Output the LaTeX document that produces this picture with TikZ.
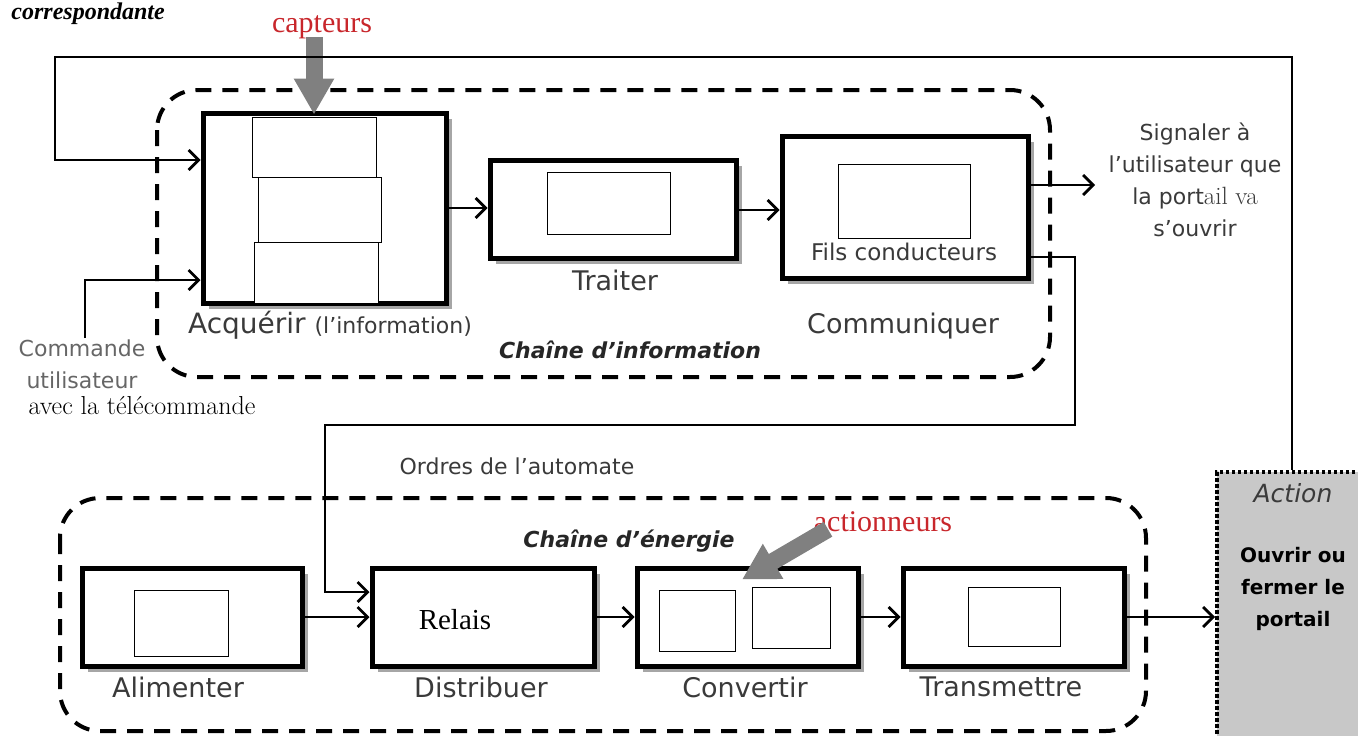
\documentclass[tikz,border=0pt]{standalone}
\usepackage{fontspec}
\usetikzlibrary{arrows.meta,shadows}
\newfontfamily\lblfont{DejaVu Sans}
\newfontfamily\serifb{Liberation Serif}
\definecolor{txtgray}{HTML}{3A3A3A}
\definecolor{capred}{HTML}{C8262B}
\definecolor{actgray}{HTML}{C8C8C8}
\definecolor{pointer}{HTML}{808080}

\begin{document}
\begin{tikzpicture}[x=1pt,y=-1pt,
  blk/.style={draw=black, line width=5pt, fill=white, inner sep=0pt,
    drop shadow={shadow xshift=6pt,shadow yshift=-6pt,fill=black!35,opacity=1}},
  slot/.style={draw=black, line width=0.8pt, fill=white, inner sep=0pt},
  chain/.style={draw=black, line width=4pt, dash pattern=on 16pt off 11pt, rounded corners=40pt},
  conn/.style={draw=black, line width=2.8pt, -{Straight Barb[length=10pt,width=20pt]}},
  pointerarrow/.style={draw=pointer, line width=17pt, -{Triangle[length=36pt,width=38pt]}},
  lbl/.style={font=\lblfont\fontsize{27}{30}\selectfont, text=txtgray, inner sep=0pt},
  note/.style={font=\lblfont\fontsize{22}{32}\selectfont, text=txtgray, inner sep=0pt, align=center},
  chaintitle/.style={font=\lblfont\bfseries\itshape\fontsize{22}{26}\selectfont, text=black!85, inner sep=0pt},
  redlbl/.style={font=\serifb\fontsize{30}{32}\selectfont, text=capred, inner sep=0pt},
]
\useasboundingbox (0,0) rectangle (1358,736);

% heading fragment
\node[font=\serifb\bfseries\itshape\fontsize{24}{26}\selectfont, anchor=east, inner sep=0pt] (head) at (165,14) {correspondante};

% dashed chain frames
\draw[chain] (157,90) rectangle (1050,377);
\draw[chain] (60,498) rectangle (1146,731);

% information chain blocks
\node[blk, minimum width=243pt, minimum height=190pt] (acq) at (324.5,208) {};
\node[slot, minimum width=124pt, minimum height=60pt] (acq1) at (314,147) {};
\node[slot, minimum width=123pt, minimum height=65pt] (acq2) at (319.5,209.5) {};
\node[slot, minimum width=124pt, minimum height=61pt] (acq3) at (316,272.5) {};

\node[blk, minimum width=246pt, minimum height=98pt] (trt) at (613,209) {};
\node[slot, minimum width=123pt, minimum height=62pt] (trt1) at (608.5,203) {};

\node[blk, minimum width=246pt, minimum height=142pt] (com) at (905,207) {};
\node[slot, minimum width=132pt, minimum height=74pt] (com1) at (904,201) {};
\node[note, font=\lblfont\fontsize{23}{30}\selectfont] (fils) at (904,252) {Fils conducteurs};

% energy chain blocks
\node[blk, minimum width=220pt, minimum height=98pt] (ali) at (192,617) {};
\node[slot, minimum width=94pt, minimum height=66pt] (ali1) at (181,623) {};

\node[blk, minimum width=222pt, minimum height=98pt] (dis) at (483,617) {};
\node[font=\serifb\fontsize{29}{30}\selectfont, inner sep=0pt] (relais) at (455,620) {Relais};

\node[blk, minimum width=221pt, minimum height=98pt] (cnv) at (747.5,617) {};
\node[slot, minimum width=76pt, minimum height=61pt] (cnv1) at (697,620.5) {};
\node[slot, minimum width=78pt, minimum height=61pt] (cnv2) at (791,617.5) {};

\node[blk, minimum width=221pt, minimum height=98pt] (trm) at (1013.5,617) {};
\node[slot, minimum width=92pt, minimum height=59pt] (trm1) at (1014,616.5) {};

% action block
\node[draw=black, fill=actgray, line width=4pt, dash pattern=on 3.5pt off 2.5pt,
      minimum width=150pt, minimum height=276pt, inner sep=0pt] (act) at (1292,610) {};
\node[font=\lblfont\itshape\fontsize{25}{28}\selectfont, text=txtgray, inner sep=0pt] (acttitle) at (1293,493) {Action};
\node[font=\lblfont\bfseries\fontsize{20}{32}\selectfont, align=center, inner sep=0pt] (acttxt) at (1293,589) {Ouvrir ou\\fermer le\\portail};

% block labels
\node[lbl] (acqlbl) at (330,325) {\fontsize{28}{30}\selectfont Acquérir {\fontsize{22}{26}\selectfont(l’information)}};
\node[lbl] (trtlbl) at (615,280) {Traiter};
\node[lbl] (comlbl) at (903,326) {Communiquer};
\node[chaintitle] (infotitle) at (630,350) {Chaîne d’information};
\node[lbl] (alilbl) at (178,687) {Alimenter};
\node[lbl] (dislbl) at (481,687) {Distribuer};
\node[lbl] (cnvlbl) at (745,687) {Convertir};
\node[lbl] (trmlbl) at (1001,687) {Transmettre};
\node[chaintitle] (enertitle) at (629,541) {Chaîne d’énergie};

% side texts
\node[note] (sig) at (1195,180) {Signaler à\\l’utilisateur que\\la port{\rmfamily\fontsize{25}{32}\selectfont ail va}\\s’ouvrir};
\node[note, align=center, text=black!60] (cmdtxt) at (82,364) {Commande\\utilisateur};
\node[font=\rmfamily\fontsize{26}{28}\selectfont, inner sep=0pt] (avec) at (142,406) {avec la télécommande};
\node[note] (ordres) at (517,466) {Ordres de l’automate};

% sensors and actuators
\node[redlbl] (capt) at (322,27) {capteurs};
\node[redlbl] (actn) at (883,522) {actionneurs};
\draw[pointerarrow] ([xshift=-8pt,yshift=2pt]capt.south) -- ([xshift=-10.5pt,yshift=-4pt]acq.north);
\draw[pointerarrow] ([xshift=-55pt,yshift=3pt]actn.south) -- ([xshift=-5.5pt,yshift=-14pt]cnv.north);

% connectors
\coordinate (loopTL) at (55,57);
\coordinate (cmdStart) at (85,338);
\coordinate (sigEnd) at (1095,185);
\coordinate (ordA) at (1075,425);
\coordinate (ordB) at (325,425);

\draw[conn] (act.north) |- (loopTL) |- ([yshift=48pt]acq.west);
\draw[conn] (cmdStart) |- ([yshift=-72pt]acq.west);
\draw[conn] (acq.east) -- (acq.east -| trt.west);
\draw[conn] ([yshift=-1pt]trt.east) -- ([yshift=-1pt]trt.east -| com.west);
\draw[conn] ([yshift=22pt]com.east) -- (sigEnd);
\draw[conn] ([yshift=-50pt]com.east) -| (ordA) -- (ordB) |- ([yshift=25pt]dis.west);
\draw[conn] (ali.east) -- (dis.west);
\draw[conn] (dis.east) -- (cnv.west);
\draw[conn] (cnv.east) -- (trm.west);
\draw[conn] (trm.east) -- (trm.east -| act.west);
\end{tikzpicture}
\end{document}
